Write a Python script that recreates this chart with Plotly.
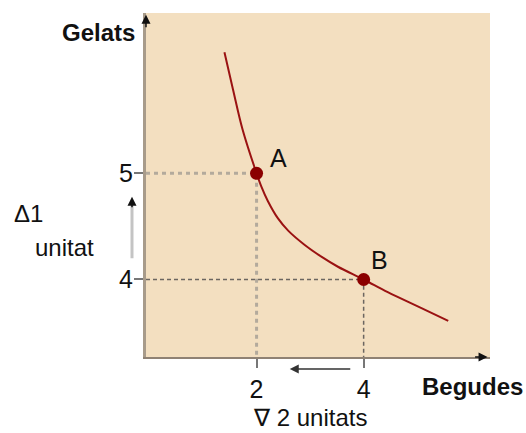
import plotly.graph_objects as go

# ---- data ----
curve_x = [1.40, 1.56, 1.74, 2.00, 2.09, 2.21, 2.40, 2.59, 2.90, 3.21, 3.52, 4.00, 4.45, 5.08, 5.58]
curve_y = [6.14, 5.79, 5.41, 5.00, 4.875, 4.74, 4.575, 4.46, 4.325, 4.215, 4.12, 4.00, 3.88, 3.73, 3.61]
point_labels = ["A", "B"]
point_x = [2, 4]
point_y = [5, 4]
x_ticks = [2, 4]
y_ticks = [4, 5]
x_title = "Begudes"
y_title = "Gelats"
dy_text = ["Δ1", "unitat"]
dx_text = "∇ 2 unitats"

X0, X1 = -0.065, 6.36
Y0, Y1 = 3.27, 6.51

FONT = "Liberation Sans, Arial, sans-serif"
RED = "#9a1212"
DOT_RED = "#8b0000"

fig = go.Figure()

# guide lines for A (light grey dotted)
fig.add_trace(go.Scatter(x=[X0, point_x[0], point_x[0]], y=[point_y[0], point_y[0], Y0],
                         mode="lines", line=dict(color="#b3aa9c", width=3, dash="4px,4px"),
                         hoverinfo="skip", showlegend=False))
# guide lines for B (dark dashed)
fig.add_trace(go.Scatter(x=[X0, point_x[1], point_x[1]], y=[point_y[1], point_y[1], Y0],
                         mode="lines", line=dict(color="#6b6660", width=1.5, dash="4px,3px"),
                         hoverinfo="skip", showlegend=False))
# curve
fig.add_trace(go.Scatter(x=curve_x, y=curve_y, mode="lines",
                         line=dict(color=RED, width=2, shape="spline", smoothing=1.0),
                         hoverinfo="skip", showlegend=False))
# points
fig.add_trace(go.Scatter(x=point_x, y=point_y, mode="markers",
                         marker=dict(color=DOT_RED, size=13),
                         hoverinfo="skip", showlegend=False))

annotations = []
# point labels
label_offsets = [(22, -15), (16, -19)]
for lab, px, py, (ox, oy) in zip(point_labels, point_x, point_y, label_offsets):
    annotations.append(dict(x=px, y=py, xref="x", yref="y", text=lab, showarrow=False,
                            xshift=ox, yshift=-oy, font=dict(family=FONT, size=25, color="#111")))
# axis titles
annotations.append(dict(x=-0.026, y=0.942, xref="paper", yref="paper", text="<b>%s</b>" % y_title,
                        showarrow=False, xanchor="right", yanchor="middle",
                        font=dict(family=FONT, size=24, color="#111")))
annotations.append(dict(x=0.797, y=-0.086, xref="paper", yref="paper", text="<b>%s</b>" % x_title,
                        showarrow=False, xanchor="left", yanchor="middle",
                        font=dict(family=FONT, size=24, color="#111")))
# delta texts
annotations.append(dict(x=-0.39, y=4.62, xref="paper", yref="y", text=dy_text[0],
                        showarrow=False, xanchor="left", yanchor="middle",
                        font=dict(family=FONT, size=24, color="#111")))
annotations.append(dict(x=-0.328, y=4.30, xref="paper", yref="y", text=dy_text[1],
                        showarrow=False, xanchor="left", yanchor="middle",
                        font=dict(family=FONT, size=24, color="#111")))
annotations.append(dict(x=1.9, y=-0.176, xref="x", yref="paper", text=dx_text,
                        showarrow=False, xanchor="left", yanchor="middle",
                        font=dict(family=FONT, size=24, color="#111")))
# axis arrowheads
annotations.append(dict(x=0, y=0.995, xref="paper", yref="paper", ax=0, ay=14, text="",
                        showarrow=True, arrowhead=2, arrowsize=1.2, arrowwidth=1.5, arrowcolor="#111"))
annotations.append(dict(x=0.993, y=0, xref="paper", yref="paper", ax=-14, ay=0, text="",
                        showarrow=True, arrowhead=2, arrowsize=1.2, arrowwidth=1.5, arrowcolor="#111"))
# up arrow (Δ1)
annotations.append(dict(x=-0.0407, y=4.78, xref="paper", yref="y", ax=0, ay=12, text="",
                        showarrow=True, arrowhead=2, arrowsize=1.2, arrowwidth=1.5, arrowcolor="#111"))
# left arrow (∇2)
annotations.append(dict(x=2.62, y=-0.035, xref="x", yref="paper", ax=62, ay=0, text="",
                        showarrow=True, arrowhead=2, arrowsize=1.2, arrowwidth=1.5, arrowcolor="#333"))

shapes = [dict(type="line", xref="paper", yref="y", x0=-0.0407, x1=-0.0407, y0=4.20, y1=4.70,
               line=dict(color="#c4c4c4", width=3))]

fig.update_layout(
    width=526, height=433,
    margin=dict(l=146, r=36, t=13, b=76),
    paper_bgcolor="white", plot_bgcolor="#f3dfc0",
    showlegend=False,
    annotations=annotations, shapes=shapes,
    xaxis=dict(range=[X0, X1], tickvals=x_ticks, ticktext=[str(v) for v in x_ticks],
               ticks="outside", ticklen=9, tickwidth=1.5, tickcolor="#777",
               showgrid=False, zeroline=False, showline=True, linecolor="#8f8274", linewidth=2,
               tickfont=dict(family=FONT, size=25, color="#111"), fixedrange=True),
    yaxis=dict(range=[Y0, Y1], tickvals=y_ticks, ticktext=[str(v) for v in y_ticks],
               ticks="outside", ticklen=9, tickwidth=1.5, tickcolor="#777",
               ticklabelstandoff=-4,
               showgrid=False, zeroline=False, showline=True, linecolor="#a89b8a", linewidth=3,
               tickfont=dict(family=FONT, size=25, color="#111"), fixedrange=True),
)

# remove the default 8px page margin so the figure fills the 526x433 window exactly
fig.write_html("out.html", config={"displayModeBar": False},
               post_script="document.body.style.margin='0px';")
